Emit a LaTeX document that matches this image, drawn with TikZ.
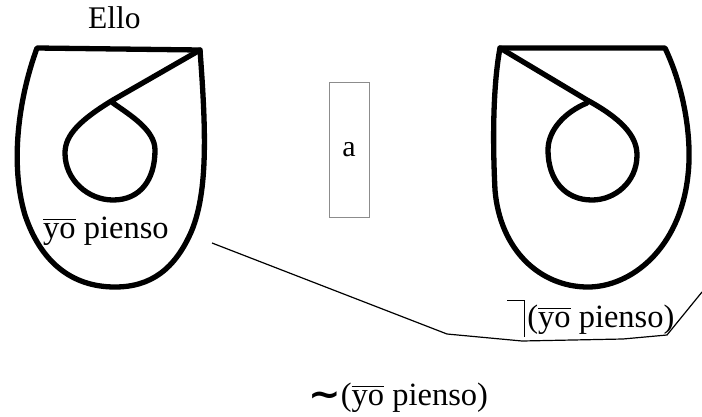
\documentclass[tikz,border=0pt]{standalone}
\usepackage{fontspec}
\setmainfont{Liberation Serif}
\newfontfamily\symfont{DejaVu Sans}
\newcommand\ovyo{$\overline{\vphantom{T}\mbox{yo}}$}
\newcommand\negsym{\makebox[0.62em][l]{\rule[0.81em]{0.55em}{0.035em}\hspace{-0.035em}\rule[-0.3em]{0.035em}{1.145em}}}
\begin{document}
\begin{tikzpicture}[x=1pt,y=-1pt,
  thickline/.style={line width=5.3pt, line join=round, line cap=round},
  lbl/.style={inner sep=0pt, anchor=base west, font=\fontsize{32.5}{37}\selectfont},
  thinline/.style={line width=1.2pt, line join=round},
  boxa/.style={draw=black!45, line width=1pt, minimum width=40pt, minimum height=135pt, inner sep=0pt, font=\fontsize{30}{34}\selectfont}]
\fill[white] (0,0) rectangle (702,416);
\useasboundingbox (0,0) rectangle (702,416);
% left shape
\draw[thickline] (37,48) -- (200,50)
  .. controls (206,130) and (208,190) .. (192,230)
  .. controls (175,270) and (150,287) .. (115,287)
  .. controls (70,287) and (40,260) .. (25,215)
  .. controls (10,165) and (18,100) .. (37,48) -- cycle;
\draw[thickline] (200,50) -- (113,100)
  .. controls (80,120) and (65,135) .. (65,153)
  .. controls (65,180) and (88,200) .. (113,200)
  .. controls (140,200) and (155,180) .. (155,150)
  .. controls (155,130) and (130,115) .. (113,103);
% right shape
\draw[thickline] (500,48) -- (665,48)
  .. controls (685,90) and (692,140) .. (688,175)
  .. controls (680,250) and (630,287) .. (588,287)
  .. controls (540,287) and (500,250) .. (495,190)
  .. controls (492,130) and (494,80) .. (500,48) -- cycle;
\draw[thickline] (500,48) -- (587,100)
  .. controls (620,118) and (637,135) .. (637,155)
  .. controls (637,182) and (615,200) .. (592,200)
  .. controls (565,200) and (548,180) .. (548,150)
  .. controls (548,130) and (565,112) .. (587,103);
% texts
\node[lbl, font=\fontsize{31.5}{36}\selectfont] (ello) at (88,28) {Ello};
\node[lbl] (lt) at (43,238) {\ovyo{} pienso};
\node[lbl] (rt) at (507,327) {\negsym(\ovyo{} pienso)};
\node[lbl] (bt) at (308,405) {\raisebox{-0.05em}{\scalebox{1.2}[1.1]{\symfont\bfseries ∼}}(\ovyo{} pienso)};
\node[boxa] (a) at (349,149.5) {a};
% connector
\coordinate (c1) at (212,243);
\coordinate (c2) at (447,334);
\coordinate (c3) at (522,341);
\coordinate (c4) at (623,339);
\coordinate (c5) at (667,335);
\coordinate (c6) at (702,292);
\draw[thinline] (c1) -- (c2) -- (c3) -- (c4) -- (c5) -- (c6);
\end{tikzpicture}
\end{document}
